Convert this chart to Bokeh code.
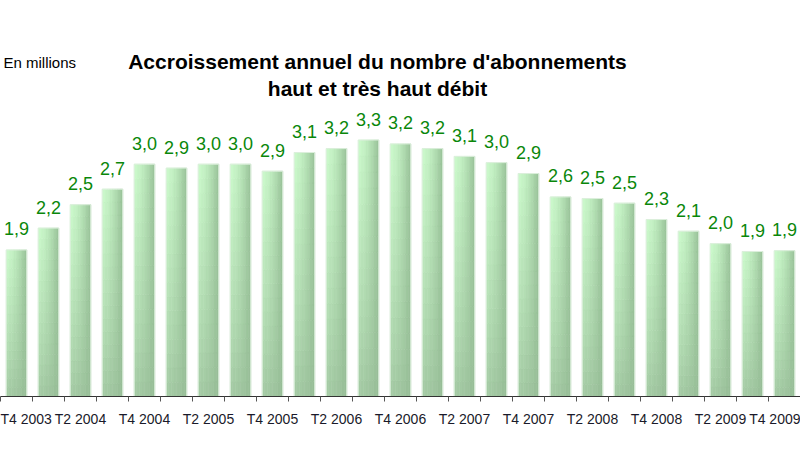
from bokeh.plotting import figure
from bokeh.models import Range1d, FixedTicker, ColumnDataSource, Label
from bokeh.core.properties import value
from bokeh.embed import file_html
from bokeh.resources import INLINE

# ---------------- data ----------------
quarters = ["T4 2003", "T1 2004", "T2 2004", "T3 2004", "T4 2004",
            "T1 2005", "T2 2005", "T3 2005", "T4 2005",
            "T1 2006", "T2 2006", "T3 2006", "T4 2006",
            "T1 2007", "T2 2007", "T3 2007", "T4 2007",
            "T1 2008", "T2 2008", "T3 2008", "T4 2008",
            "T1 2009", "T2 2009", "T3 2009", "T4 2009"]
growth = [1.88, 2.16, 2.46, 2.66, 2.98,
          2.93, 2.98, 2.98, 2.89,
          3.13, 3.18, 3.29, 3.24,
          3.18, 3.08, 3.00, 2.86,
          2.56, 2.54, 2.48, 2.27,
          2.12, 1.96, 1.86, 1.87]
title_lines = ["Accroissement annuel du nombre d'abonnements", "haut et très haut débit"]
unit_text = "En millions"

# ---------------- geometry / style ----------------
W, H = 800, 450
BOTTOM = 54            # pixels below the axis line
X0, X1 = -0.5, 24.5
PX_PER_CAT = W / (X1 - X0)
Y1 = 5.08
PX_PER_UNIT = (H - BOTTOM) / Y1
BAR_W = 0.64
FONT = "Liberation Sans"


def sx(px):
    return X0 + px / PX_PER_CAT


def sy(py):
    return (H - BOTTOM - py) / PX_PER_UNIT


p = figure(width=W, height=H, x_range=Range1d(X0, X1), y_range=Range1d(0, Y1),
           output_backend="svg", toolbar_location=None, y_axis_location=None,
           min_border=0, min_border_left=0, min_border_right=0, min_border_top=0,
           min_border_bottom=BOTTOM)
p.outline_line_color = None
p.xgrid.visible = False
p.ygrid.visible = False
p.background_fill_color = "white"
p.border_fill_color = "white"

# ---------------- gradient bars ----------------
NS, NV = 8, 16
TL, TR = (204, 250, 204), (150, 192, 150)
BL, BR = (162, 200, 162), (150, 188, 150)


def lerp(a, b, t):
    return tuple(a[i] + (b[i] - a[i]) * t for i in range(3))


def hexc(c):
    return "#%02x%02x%02x" % tuple(int(round(v)) for v in c)


xs, ws, bots, tops, cols = [], [], [], [], []
for i, v in enumerate(growth):
    for j in range(NS):
        s = (j + 0.5) / NS
        sp = s ** 1.6
        for k in range(NV):
            t = ((k + 0.5) / NV) ** 0.8
            left = lerp(BL, TL, t)
            right = lerp(BR, TR, t)
            c = lerp(left, right, sp)
            xs.append(i - BAR_W / 2 + (j + 0.5) * BAR_W / NS)
            ws.append(BAR_W / NS)
            bots.append(v * k / NV)
            tops.append(v * (k + 1) / NV)
            cols.append(hexc(c))

bar_src = ColumnDataSource(dict(x=xs, w=ws, bottom=bots, top=tops, color=cols))
p.vbar(x="x", width="w", bottom="bottom", top="top", source=bar_src,
       fill_color="color", line_color="color", line_width=0.6)

# thin light outline
p.vbar(x=list(range(len(growth))), width=BAR_W, top=growth, bottom=0,
       fill_color=None, line_color="#dcefdc", line_width=1)

# ---------------- value labels ----------------
lab_src = ColumnDataSource(dict(x=list(range(len(growth))), y=growth,
                                label=[f"{v:.1f}".replace(".", ",") for v in growth]))
p.text(x="x", y="y", text="label", source=lab_src, text_align="center",
       text_baseline="alphabetic", y_offset=-21, text_font=value(FONT),
       text_font_size="18px", text_color="#0a870a")

# ---------------- axis ----------------
ax = p.xaxis[0]
ax.ticker = FixedTicker(ticks=list(range(0, len(quarters), 2)),
                        minor_ticks=[i + 0.5 for i in range(-1, len(quarters))])
ax.major_label_overrides = {i: quarters[i] for i in range(0, len(quarters), 2)}
ax.major_tick_out = 0
ax.major_tick_in = 0
ax.minor_tick_out = 5
ax.minor_tick_in = 0
ax.minor_tick_line_color = "#555555"
ax.axis_line_color = "#333333"
ax.axis_line_width = 1
ax.major_label_standoff = 9
ax.major_label_text_font = FONT
ax.major_label_text_font_size = "14px"
ax.major_label_text_color = "#1a1a2a"

# ---------------- title & unit ----------------
p.add_layout(Label(x=sx(377), y=sy(61), text=title_lines[0], text_align="center",
                   text_baseline="alphabetic", text_font=FONT, text_font_size="21px",
                   text_font_style="bold", text_color="black"))
p.add_layout(Label(x=sx(377), y=sy(88), text=title_lines[1], text_align="center",
                   text_baseline="alphabetic", text_font=FONT, text_font_size="21px",
                   text_font_style="bold", text_color="black"))
p.add_layout(Label(x=sx(3), y=sy(62), text=unit_text, text_align="left",
                   text_baseline="alphabetic", text_font=FONT, text_font_size="15px",
                   text_color="black"))

open("out.html", "w").write(file_html(p, INLINE))
